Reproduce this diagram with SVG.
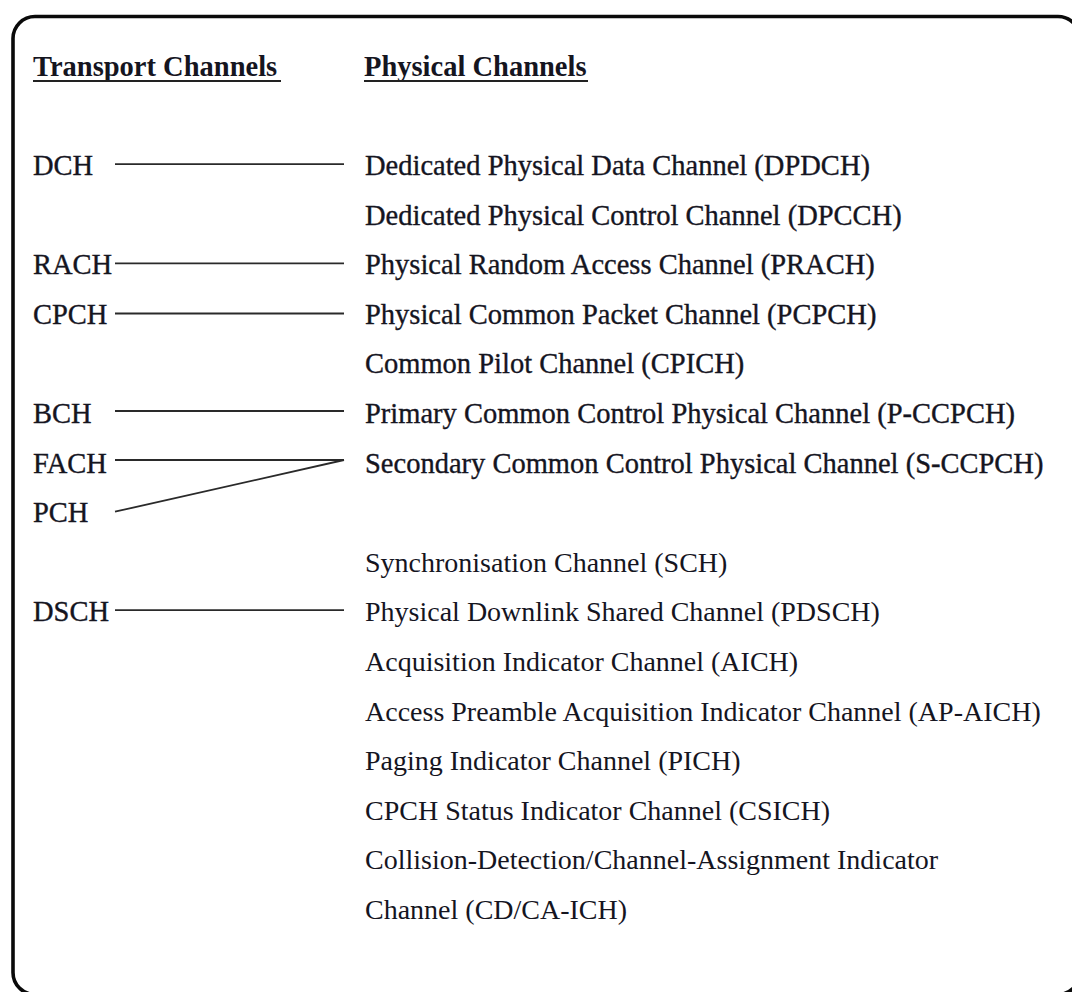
<svg xmlns="http://www.w3.org/2000/svg" width="1072" height="992" viewBox="0 0 1072 992">
  <style>
    .frame { fill: none; stroke: #0a0a0a; stroke-width: 3.6; }
    .hdr { font-family: "Liberation Serif", "Times New Roman", serif; font-size: 28.5px; font-weight: bold; fill: #15151f; }
    .lbl { font-family: "Liberation Serif", "Times New Roman", serif; font-size: 28px; fill: #15151f; }
    .upper { font-size: 28.5px; stroke: #15151f; stroke-width: 0.35; }
    .ul { stroke: #222; stroke-width: 1.8; }
    .link { stroke: #2a2a2a; stroke-width: 1.8; fill: none; }
  </style>

  <!-- rounded border, runs past the right and bottom edges -->
  <rect class="frame" x="13" y="16.5" width="1067" height="978" rx="22" ry="22"/>

  <!-- column headings -->
  <g id="heading-transport">
    <text class="hdr" x="33" y="76">Transport Channels</text>
    <line class="ul" x1="33" y1="81" x2="281" y2="81"/>
  </g>
  <g id="heading-physical">
    <text class="hdr" x="364" y="76">Physical Channels</text>
    <line class="ul" x1="364" y1="81" x2="588" y2="81"/>
  </g>

  <!-- transport channels (left column) -->
  <g id="t-dch"><text class="lbl upper" x="33" y="175">DCH</text></g>
  <g id="t-rach"><text class="lbl upper" x="33" y="274.2">RACH</text></g>
  <g id="t-cpch"><text class="lbl upper" x="33" y="323.8">CPCH</text></g>
  <g id="t-bch"><text class="lbl upper" x="33" y="423">BCH</text></g>
  <g id="t-fach"><text class="lbl upper" x="33" y="472.6">FACH</text></g>
  <g id="t-pch"><text class="lbl upper" x="33" y="522.2">PCH</text></g>
  <g id="t-dsch"><text class="lbl upper" x="33" y="621.4">DSCH</text></g>

  <!-- physical channels (right column) -->
  <g id="p-dpdch"><text class="lbl upper" x="365" y="175">Dedicated Physical Data Channel (DPDCH)</text></g>
  <g id="p-dpcch"><text class="lbl upper" x="365" y="224.6">Dedicated Physical Control Channel (DPCCH)</text></g>
  <g id="p-prach"><text class="lbl upper" x="365" y="274.2">Physical Random Access Channel (PRACH)</text></g>
  <g id="p-pcpch"><text class="lbl upper" x="365" y="323.8">Physical Common Packet Channel (PCPCH)</text></g>
  <g id="p-cpich"><text class="lbl upper" x="365" y="373.4">Common Pilot Channel (CPICH)</text></g>
  <g id="p-pccpch"><text class="lbl upper" x="365" y="423">Primary Common Control Physical Channel (P-CCPCH)</text></g>
  <g id="p-sccpch"><text class="lbl upper" x="365" y="472.6">Secondary Common Control Physical Channel (S-CCPCH)</text></g>
  <g id="p-sch"><text class="lbl" x="365" y="571.8">Synchronisation Channel (SCH)</text></g>
  <g id="p-pdsch"><text class="lbl" x="365" y="621.4">Physical Downlink Shared Channel (PDSCH)</text></g>
  <g id="p-aich"><text class="lbl" x="365" y="671">Acquisition Indicator Channel (AICH)</text></g>
  <g id="p-apaich"><text class="lbl" x="365" y="720.6">Access Preamble Acquisition Indicator Channel (AP-AICH)</text></g>
  <g id="p-pich"><text class="lbl" x="365" y="770.2">Paging Indicator Channel (PICH)</text></g>
  <g id="p-csich"><text class="lbl" x="365" y="819.8">CPCH Status Indicator Channel (CSICH)</text></g>
  <g id="p-cdcaich">
    <text class="lbl" x="365" y="869.4">Collision-Detection/Channel-Assignment Indicator</text>
    <text class="lbl" x="365" y="919">Channel (CD/CA-ICH)</text>
  </g>

  <!-- mappings transport -> physical -->
  <g id="connectors">
    <line class="link" x1="115" y1="164.2" x2="344" y2="164.2"/>
    <line class="link" x1="115" y1="263.3" x2="344" y2="263.3"/>
    <line class="link" x1="115" y1="313.5" x2="344" y2="313.5"/>
    <line class="link" x1="115" y1="411" x2="344" y2="411"/>
    <line class="link" x1="115" y1="460" x2="344" y2="460"/>
    <line class="link" x1="115" y1="511.7" x2="344" y2="460"/>
    <line class="link" x1="115" y1="610.2" x2="344" y2="610.2"/>
  </g>
</svg>
